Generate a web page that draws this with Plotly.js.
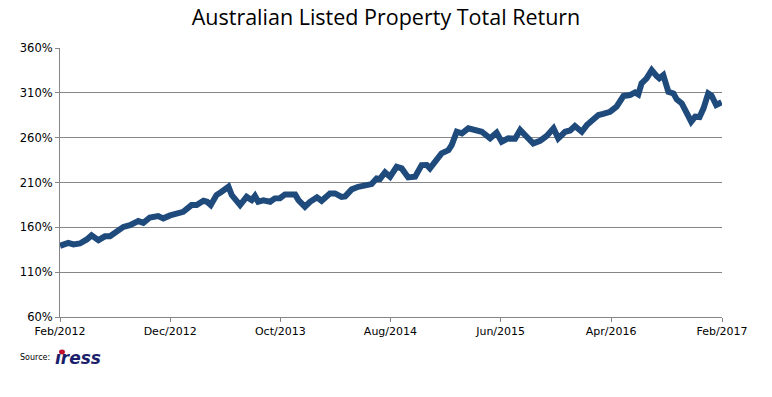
<!DOCTYPE html>
<html>
<head>
<meta charset="utf-8">
<script src="https://cdn.plot.ly/plotly-3.0.1.min.js"></script>
<style>html,body{margin:0;padding:0;background:#fff;}#chart{width:772px;height:397px;}</style>
</head>
<body>
<div id="chart"></div>
<script>
const dates = ["2012-02-01","2012-02-24","2012-03-09","2012-03-27","2012-04-15","2012-04-28","2012-05-17","2012-06-04","2012-06-18","2012-07-06","2012-07-25","2012-08-12","2012-09-04","2012-09-18","2012-10-06","2012-10-29","2012-11-12","2012-12-01","2012-12-19","2013-01-06","2013-01-29","2013-02-12","2013-03-03","2013-03-13","2013-03-23","2013-04-08","2013-04-22","2013-05-11","2013-05-20","2013-06-03","2013-06-12","2013-06-30","2013-07-14","2013-07-23","2013-08-01","2013-08-15","2013-09-03","2013-09-16","2013-09-30","2013-10-14","2013-11-11","2013-11-20","2013-12-08","2013-12-22","2014-01-10","2014-01-23","2014-02-15","2014-03-01","2014-03-19","2014-03-29","2014-04-16","2014-05-04","2014-05-23","2014-06-10","2014-06-24","2014-07-03","2014-07-17","2014-07-31","2014-08-18","2014-09-01","2014-09-19","2014-10-08","2014-10-26","2014-11-09","2014-11-18","2014-12-02","2014-12-20","2015-01-08","2015-01-17","2015-01-31","2015-02-14","2015-03-04","2015-03-22","2015-04-10","2015-05-03","2015-05-21","2015-06-04","2015-06-22","2015-07-11","2015-07-25","2015-08-12","2015-08-30","2015-09-18","2015-10-06","2015-10-25","2015-11-07","2015-11-26","2015-12-10","2015-12-23","2016-01-11","2016-01-25","2016-02-12","2016-02-26","2016-03-10","2016-03-29","2016-04-16","2016-05-05","2016-05-23","2016-06-06","2016-06-15","2016-06-24","2016-07-08","2016-07-22","2016-08-05","2016-08-12","2016-08-23","2016-09-06","2016-09-20","2016-09-29","2016-10-13","2016-10-27","2016-11-08","2016-11-19","2016-12-01","2016-12-12","2016-12-25","2017-01-03","2017-01-16","2017-01-31"];
const totalReturn = [139.4,142.7,141,142,146.5,151,145.7,150,150,155.7,160.5,162.5,167,165,171,172.5,170,173.3,175.5,177.3,184.8,184.8,189.6,188.5,184.8,196,199.7,205.2,196,190.4,184.8,194,190.4,195,188.5,190,188.5,192.3,192.5,196.7,196.7,190.4,183,188.5,193.4,189.6,197.8,197.8,194,194.5,202.3,205.2,206.4,208.2,214.6,214,221.3,216.4,227.5,225.7,215.7,216.4,229.4,229.6,225.7,232.9,242.5,246,251.7,266.6,264.8,270.4,267.7,266.6,259.2,265.5,255.5,259.2,258.8,268.5,261,253.6,256.6,261.8,270.4,259.2,266.6,268,273,266.6,274,281.5,285.3,286.5,288.9,294.5,306.4,307.5,310.5,308.3,320.6,326.2,335.4,328.7,326.2,329.8,311.2,309.4,302.7,298.2,285.2,277.8,283.4,283,292.7,309.4,307,296.4,299.5];
const tickDates = ["2012-02-01","2012-12-01","2013-10-01","2014-08-01","2015-06-01","2016-04-01","2017-02-01"];
const tickLabels = ["Feb/2012","Dec/2012","Oct/2013","Aug/2014","Jun/2015","Apr/2016","Feb/2017"];

const trace = {
  x: dates, y: totalReturn, type: 'scatter', mode: 'lines',
  line: {color: '#1F4A7C', width: 6, shape: 'linear'},
  hoverinfo: 'skip'
};
const layout = {
  width: 772, height: 397,
  margin: {l: 60, r: 50, t: 48, b: 80},
  paper_bgcolor: '#fff', plot_bgcolor: '#fff',
  showlegend: false,
  title: {text: 'Australian Listed Property Total Return', x: 0.5, xanchor: 'center', y: 0.955, yanchor: 'middle',
          font: {family: 'Open Sans, Liberation Sans, sans-serif', size: 21.5, color: '#000'}},
  xaxis: {
    type: 'date', range: ['2012-02-01', '2017-02-01'],
    tickmode: 'array', tickvals: tickDates, ticktext: tickLabels,
    showgrid: false, zeroline: false,
    showline: true, linecolor: '#868686', linewidth: 1,
    ticks: 'outside', ticklen: 4, tickcolor: '#868686',
    tickfont: {family: 'DejaVu Sans, sans-serif', size: 11, color: '#000'},
    fixedrange: true
  },
  yaxis: {
    range: [60, 360], dtick: 50, tick0: 60, ticksuffix: '%',
    showgrid: true, gridcolor: '#868686', gridwidth: 1,
    zeroline: false, showline: true, linecolor: '#868686', linewidth: 1,
    ticks: 'outside', ticklen: 4, tickcolor: '#868686',
    tickfont: {family: 'DejaVu Sans, sans-serif', size: 11.5, color: '#000'},
    fixedrange: true
  },
  annotations: [
    {text: 'Source:', xref: 'paper', yref: 'paper', x: -0.0634, y: -0.149, xanchor: 'left', yanchor: 'middle',
     showarrow: false, font: {family: 'DejaVu Sans, sans-serif', size: 8, color: '#000'}},
    {text: '<b><i>\u0131ress</i></b>', xref: 'paper', yref: 'paper', x: -0.0106, y: -0.153, xanchor: 'left', yanchor: 'middle',
     showarrow: false, font: {family: 'DejaVu Sans, sans-serif', size: 17, color: '#1B1F6B'}}
  ],
  shapes: [
    {type: 'circle', xref: 'paper', yref: 'paper', layer: 'above', x0: -0.0015, x1: 0.0075, y0: -0.1395, y1: -0.1210,
     fillcolor: '#C0102E', line: {width: 0}}
  ]
};
Plotly.newPlot('chart', [trace], layout, {staticPlot: true, displayModeBar: false});
</script>
</body>
</html>
